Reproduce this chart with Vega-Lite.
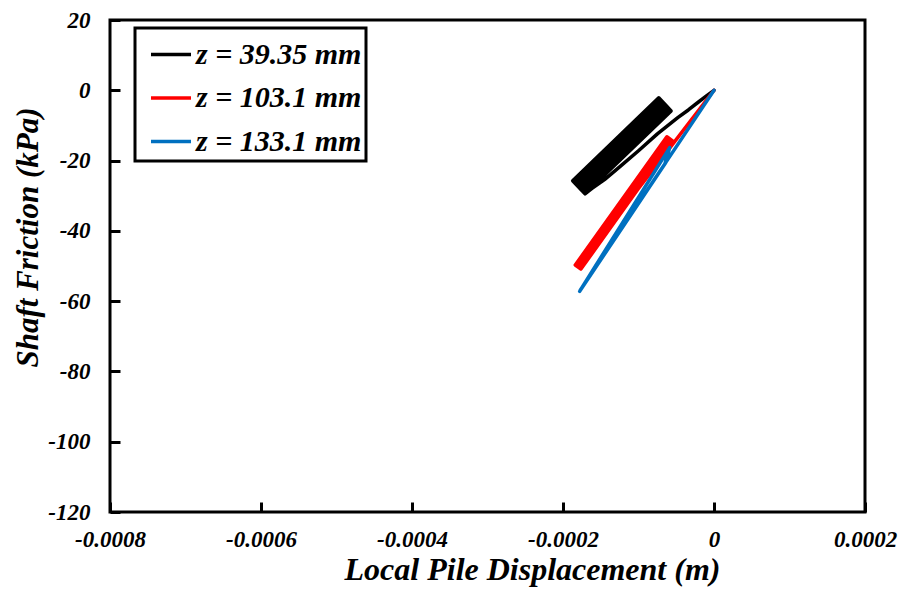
{
  "$schema": "https://vega.github.io/schema/vega-lite/v6.json",
  "width": 755,
  "height": 492,
  "autosize": {"type": "none"},
  "padding": {"left": 110, "top": 20, "right": 42, "bottom": 79},
  "background": "white",
  "datasets": {
    "curves": [
      {"series": "z = 39.35 mm", "order": 0, "disp": 0, "friction": 0},
      {"series": "z = 39.35 mm", "order": 1, "disp": -0.00001, "friction": -1.6},
      {"series": "z = 39.35 mm", "order": 2, "disp": -0.000021, "friction": -3.4},
      {"series": "z = 39.35 mm", "order": 3, "disp": -0.000034, "friction": -5.6},
      {"series": "z = 39.35 mm", "order": 4, "disp": -0.000048, "friction": -7.8},
      {"series": "z = 39.35 mm", "order": 5, "disp": -0.000075, "friction": -12.4},
      {"series": "z = 39.35 mm", "order": 6, "disp": -0.0001, "friction": -17.2},
      {"series": "z = 39.35 mm", "order": 7, "disp": -0.000125, "friction": -21.8},
      {"series": "z = 39.35 mm", "order": 8, "disp": -0.000145, "friction": -25.4},
      {"series": "z = 39.35 mm", "order": 9, "disp": -0.000162, "friction": -28.0},
      {"series": "z = 39.35 mm", "order": 10, "disp": -0.00017081, "friction": -29.47},
      {"series": "z = 39.35 mm", "order": 11, "disp": -0.00018719, "friction": -25.73},
      {"series": "z = 39.35 mm", "order": 12, "disp": -0.00007319, "friction": -2.13},
      {"series": "z = 39.35 mm", "order": 13, "disp": -0.00005954, "friction": -5.25},
      {"series": "z = 39.35 mm", "order": 14, "disp": -0.00017354, "friction": -28.85},
      {"series": "z = 39.35 mm", "order": 15, "disp": -0.00018355, "friction": -26.56},
      {"series": "z = 39.35 mm", "order": 16, "disp": -0.00006955, "friction": -2.96},
      {"series": "z = 39.35 mm", "order": 17, "disp": -0.00005681, "friction": -5.87},
      {"series": "z = 39.35 mm", "order": 18, "disp": -0.00017081, "friction": -29.47},
      {"series": "z = 39.35 mm", "order": 19, "disp": -0.00018628, "friction": -25.94},
      {"series": "z = 39.35 mm", "order": 20, "disp": -0.00007228, "friction": -2.34},
      {"series": "z = 39.35 mm", "order": 21, "disp": -0.00006318, "friction": -4.42},
      {"series": "z = 39.35 mm", "order": 22, "disp": -0.00017718, "friction": -28.02},
      {"series": "z = 39.35 mm", "order": 23, "disp": -0.00018082, "friction": -27.18},
      {"series": "z = 39.35 mm", "order": 24, "disp": -0.00006682, "friction": -3.58},
      {"series": "z = 39.35 mm", "order": 25, "disp": -0.00005772, "friction": -5.66},
      {"series": "z = 39.35 mm", "order": 26, "disp": -0.00017172, "friction": -29.26},
      {"series": "z = 39.35 mm", "order": 27, "disp": -0.00018719, "friction": -25.73},
      {"series": "z = 39.35 mm", "order": 28, "disp": -0.00007319, "friction": -2.13},
      {"series": "z = 39.35 mm", "order": 29, "disp": -0.00006136, "friction": -4.83},
      {"series": "z = 39.35 mm", "order": 30, "disp": -0.00017536, "friction": -28.43},
      {"series": "z = 39.35 mm", "order": 31, "disp": -0.000179, "friction": -27.6},
      {"series": "z = 39.35 mm", "order": 32, "disp": -0.000065, "friction": -4.0},
      {"series": "z = 103.1 mm", "order": 0, "disp": 0, "friction": 0},
      {"series": "z = 103.1 mm", "order": 1, "disp": -0.00006, "friction": -16.8},
      {"series": "z = 103.1 mm", "order": 2, "disp": -0.00012, "friction": -33.5},
      {"series": "z = 103.1 mm", "order": 3, "disp": -0.00017812, "friction": -50.59},
      {"series": "z = 103.1 mm", "order": 4, "disp": -0.00018376, "friction": -49.72},
      {"series": "z = 103.1 mm", "order": 5, "disp": -0.00006246, "friction": -13.22},
      {"series": "z = 103.1 mm", "order": 6, "disp": -0.00005494, "friction": -14.38},
      {"series": "z = 103.1 mm", "order": 7, "disp": -0.00017624, "friction": -50.88},
      {"series": "z = 103.1 mm", "order": 8, "disp": -0.00018188, "friction": -50.01},
      {"series": "z = 103.1 mm", "order": 9, "disp": -0.00006058, "friction": -13.51},
      {"series": "z = 103.1 mm", "order": 10, "disp": -0.00005682, "friction": -14.09},
      {"series": "z = 103.1 mm", "order": 11, "disp": -0.00017812, "friction": -50.59},
      {"series": "z = 103.1 mm", "order": 12, "disp": -0.00018, "friction": -50.3},
      {"series": "z = 103.1 mm", "order": 13, "disp": -0.0000587, "friction": -13.8},
      {"series": "z = 133.1 mm", "order": 0, "disp": 0, "friction": 0},
      {"series": "z = 133.1 mm", "order": 1, "disp": -0.00006, "friction": -19.3},
      {"series": "z = 133.1 mm", "order": 2, "disp": -0.00012, "friction": -38.6},
      {"series": "z = 133.1 mm", "order": 3, "disp": -0.0001779, "friction": -57.2},
      {"series": "z = 133.1 mm", "order": 4, "disp": -0.00012, "friction": -37.3},
      {"series": "z = 133.1 mm", "order": 5, "disp": -0.0000587, "friction": -16.3},
      {"series": "z = 133.1 mm", "order": 6, "disp": -0.000064, "friction": -20.6},
      {"series": "z = 133.1 mm", "order": 7, "disp": -0.00012, "friction": -38.6},
      {"series": "z = 133.1 mm", "order": 8, "disp": -0.0001775, "friction": -57.0},
      {"series": "z = 133.1 mm", "order": 9, "disp": -0.0000595, "friction": -16.6},
      {"series": "z = 133.1 mm", "order": 10, "disp": -0.000065, "friction": -20.9},
      {"series": "z = 133.1 mm", "order": 11, "disp": -0.000177, "friction": -56.8}
    ]
  },
  "data": {"name": "curves"},
  "mark": {"type": "line", "strokeWidth": 3.5, "strokeCap": "round", "strokeJoin": "round"},
  "encoding": {
    "x": {
      "field": "disp", "type": "quantitative",
      "scale": {"domain": [-0.0008, 0.0002], "nice": false, "zero": false},
      "axis": {
        "title": "Local Pile Displacement (m)",
        "values": [-0.0008, -0.0006, -0.0004, -0.0002, 0, 0.0002],
        "labelExpr": "datum.value == 0 ? '0' : replace(format(datum.value, '.4f'), '\u2212', '-')",
        "labelFlush": false,
        "labelOverlap": false,
        "offset": -10,
        "domain": false,
        "ticks": true,
        "tickSize": 10,
        "tickColor": "black",
        "tickWidth": 3,
        "labelPadding": 16,
        "titleFontSize": 32,
        "titleX": 422,
        "titleY": 77,
        "titleAlign": "center",
        "titleBaseline": "alphabetic"
      }
    },
    "y": {
      "field": "friction", "type": "quantitative",
      "scale": {"domain": [-120, 20], "nice": false, "zero": false},
      "axis": {
        "title": "Shaft Friction (kPa)",
        "values": [20, 0, -20, -40, -60, -80, -100, -120],
        "labelExpr": "replace(format(datum.value, 'd'), '\u2212', '-')",
        "offset": -10,
        "domain": false,
        "ticks": true,
        "tickSize": 10,
        "tickColor": "black",
        "tickWidth": 3,
        "labelPadding": 20,
        "titleFontSize": 31,
        "titleX": -92,
        "titleY": 217,
        "titleAngle": 270,
        "titleAlign": "center",
        "titleBaseline": "middle"
      }
    },
    "order": {"field": "order", "type": "quantitative"},
    "color": {
      "field": "series", "type": "nominal",
      "scale": {
        "domain": ["z = 39.35 mm", "z = 103.1 mm", "z = 133.1 mm"],
        "range": ["#000000", "#FF0000", "#0070C0"]
      },
      "legend": {
        "title": null,
        "orient": "none",
        "legendX": 25,
        "legendY": 8,
        "symbolType": "stroke",
        "symbolSize": 1600,
        "symbolStrokeWidth": 3.5,
        "symbolOffset": 9.5,
        "labelOffset": 3,
        "labelLimit": 400,
        "rowPadding": 6.5,
        "padding": 4.5,
        "strokeColor": "black",
        "labelExpr": "datum.label + ' '"
      }
    }
  },
  "config": {
    "view": {"stroke": "black", "strokeWidth": 3},
    "axis": {
      "grid": false,
      "labelFont": "Liberation Serif",
      "labelFontWeight": "bold",
      "labelFontStyle": "italic",
      "labelFontSize": 23,
      "labelColor": "black",
      "titleFont": "Liberation Serif",
      "titleFontWeight": "bold",
      "titleFontStyle": "italic",
      "titleColor": "black"
    },
    "legend": {
      "labelFont": "Liberation Serif",
      "labelFontWeight": "bold",
      "labelFontStyle": "italic",
      "labelFontSize": 30,
      "labelColor": "black",
      "strokeWidth": 3
    }
  }
}
